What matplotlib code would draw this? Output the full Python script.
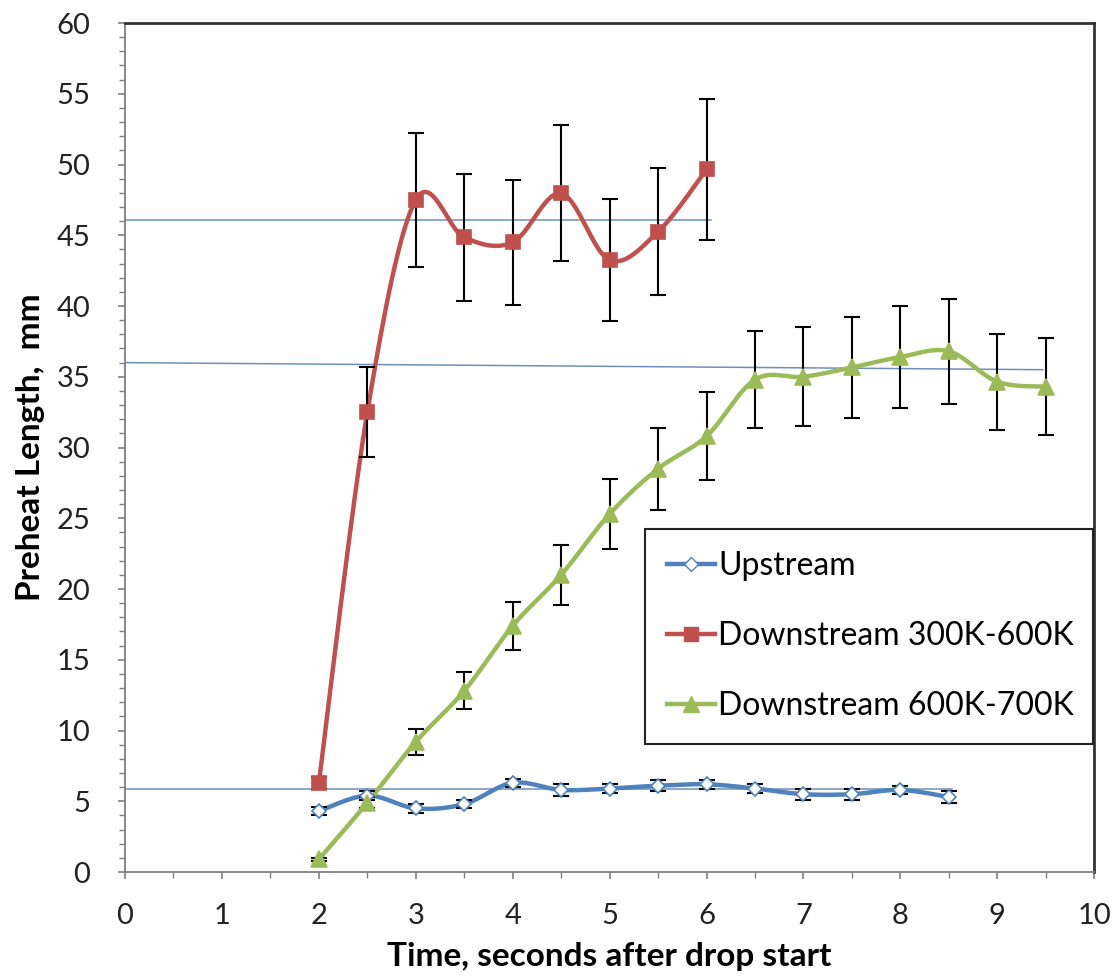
import numpy as np
import matplotlib
matplotlib.use("Agg")
import matplotlib.pyplot as plt
from matplotlib.ticker import MultipleLocator

# ---------------- data ----------------
up_x = [2, 2.5, 3, 3.5, 4, 4.5, 5, 5.5, 6, 6.5, 7, 7.5, 8, 8.5]
up_y = [4.3, 5.4, 4.5, 4.8, 6.3, 5.8, 5.9, 6.1, 6.2, 5.9, 5.5, 5.5, 5.8, 5.3]
up_err = [0.3, 0.3, 0.3, 0.3, 0.3, 0.4, 0.3, 0.4, 0.3, 0.3, 0.4, 0.4, 0.3, 0.4]

red_x = [2, 2.5, 3, 3.5, 4, 4.5, 5, 5.5, 6]
red_y = [6.3, 32.5, 47.5, 44.85, 44.5, 47.96, 43.25, 45.25, 49.65]
red_err = [0.4, 3.2, 4.75, 4.5, 4.4, 4.8, 4.3, 4.5, 5.0]

grn_x = [2, 2.5, 3, 3.5, 4, 4.5, 5, 5.5, 6, 6.5, 7, 7.5, 8, 8.5, 9, 9.5]
grn_y = [0.9, 4.9, 9.2, 12.8, 17.4, 21.0, 25.3, 28.5, 30.8, 34.8, 35.0, 35.66, 36.4, 36.8, 34.65, 34.3]
grn_err = [0.1, 0.4, 0.9, 1.3, 1.7, 2.1, 2.5, 2.9, 3.1, 3.4, 3.5, 3.55, 3.6, 3.7, 3.4, 3.45]

# thin reference (mean) lines: (x0, y0, x1, y1)
ref_lines = [(0, 46.1, 6.05, 46.1), (0, 36.0, 9.47, 35.5), (0, 5.9, 8.53, 5.9)]

labels = ["Upstream", "Downstream 300K-600K", "Downstream 600K-700K"]
x_ticks = list(range(0, 11))
y_ticks = list(range(0, 61, 5))

BLUE = "#4f81bd"
RED = "#c0504d"
GREEN = "#9bbb59"


def smooth(x, y, n=30):
    p = np.column_stack([x, y]).astype(float)
    pts = np.vstack([p[0], p, p[-1]])
    out = []
    for i in range(1, len(pts) - 2):
        p0, p1, p2, p3 = pts[i - 1], pts[i], pts[i + 1], pts[i + 2]
        c1 = p1 + (p2 - p0) / 6.0
        c2 = p2 - (p3 - p1) / 6.0
        t = np.linspace(0, 1, n)[:, None]
        seg = ((1 - t) ** 3) * p1 + 3 * ((1 - t) ** 2) * t * c1 + 3 * (1 - t) * t ** 2 * c2 + t ** 3 * p2
        out.append(seg if i == 1 else seg[1:])
    s = np.vstack(out)
    return s[:, 0], s[:, 1]


plt.rcParams['font.family'] = ['Lato', 'DejaVu Sans']
fig = plt.figure(figsize=(11.2, 9.8), dpi=100)
ax = fig.add_axes([0.1116, 0.1102, 0.8654, 0.8663])

for (x0, y0, x1, y1) in ref_lines:
    ax.plot([x0, x1], [y0, y1], color="#6d8fbf", lw=1.1, zorder=2)

series = [
    (up_x, up_y, up_err, BLUE, "D", "white", 7),
    (red_x, red_y, red_err, RED, "s", RED, 10),
    (grn_x, grn_y, grn_err, GREEN, "^", GREEN, 11),
]
handles = []
for (x, y, e, c, m, fc, ms), lab in zip(series, labels):
    sx, sy = smooth(x, y)
    ax.plot(sx, sy, color=c, lw=3.2, zorder=4, solid_capstyle='round')
    ax.errorbar(x, y, yerr=e, fmt="none", ecolor="black", elinewidth=1.5,
                capsize=5.5, capthick=1.5, zorder=5)
    ax.plot(x, y, linestyle="none", marker=m, markersize=ms, markerfacecolor=fc,
            markeredgecolor=c, markeredgewidth=1.2, zorder=6)
    h, = ax.plot([], [], color=c, lw=3.2, marker=m, markersize=ms,
                 markerfacecolor=fc, markeredgecolor=c, label=lab)
    handles.append(h)

ax.set_xlim(0, 10)
ax.set_ylim(0, 60)
ax.set_xticks(x_ticks)
ax.set_yticks(y_ticks)
ax.xaxis.set_minor_locator(MultipleLocator(0.5))
ax.yaxis.set_minor_locator(MultipleLocator(1))
ax.tick_params(axis='both', which='major', direction='out', length=5, width=1.2,
               color="#808080", labelsize=21, labelcolor="#222222")
ax.tick_params(axis='both', which='minor', direction='out', length=4, width=1.0, color="#808080")
ax.tick_params(axis='x', which='major', pad=17)
ax.tick_params(axis='y', which='major', pad=20)

for s in ["left", "bottom"]:
    ax.spines[s].set_color("#808080")
    ax.spines[s].set_linewidth(1.3)
for s in ["top", "right"]:
    ax.spines[s].set_color("#333333")
    ax.spines[s].set_linewidth(2.0)

ax.set_xlabel("Time, seconds after drop start", fontsize=24, fontweight='bold', labelpad=10)
ax.set_ylabel("Preheat Length,  mm", fontsize=24, fontweight='bold', labelpad=8)

leg = ax.legend(handles=handles, loc='upper left', bbox_to_anchor=(0.536, 0.152, 0.463, 0.252),
                mode='expand', fontsize=23, frameon=True, fancybox=False, handlelength=1.5,
                handletextpad=0.1, labelspacing=1.25, borderpad=0.7, borderaxespad=0,
                framealpha=1)
leg.get_frame().set_edgecolor("#222222")
leg.get_frame().set_linewidth(1.5)

fig.savefig("out.png", dpi=100)
